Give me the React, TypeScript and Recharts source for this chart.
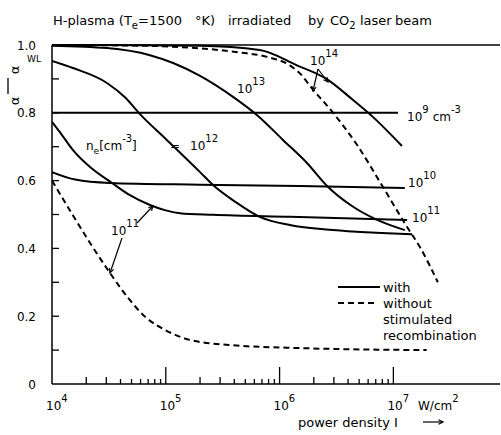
import React from 'react';
import { LineChart, Line, XAxis, YAxis, ReferenceLine } from 'recharts';

const FONT = "'DejaVu Sans', 'Liberation Sans', sans-serif";

// ---- axis setup ----
const X_MIN = 1e4;
const X_MAX = 8.65e7;
const decades = [1e4, 1e5, 1e6, 1e7];
const mantissas = [1, 2, 3, 4, 5, 6, 7, 8, 9];
const xTicks = decades.flatMap((d, i) => (i === decades.length - 1 ? [d] : mantissas.map((m) => m * d)));
const yTicks = [0, 0.1, 0.2, 0.3, 0.4, 0.5, 0.6, 0.7, 0.8, 0.9, 1.0];
const yLabels = ['0', '0.2', '0.4', '0.6', '0.8', '1.0'];

// ---- data: power density I (W/cm^2) and alpha/alpha^WL ----
// with stimulated recombination
const I_n9 = [1e4, 1.1e7];
const A_n9 = [0.8, 0.8];

const I_n10 = [1e4, 1.6e4, 3.2e4, 2e5, 1.5e6, 1.26e7];
const A_n10 = [0.625, 0.603, 0.593, 0.588, 0.584, 0.578];

const I_n11 = [1e4, 1.22e4, 1.53e4, 2.16e4, 3.37e4, 4.84e4, 7.26e4, 9.8e4, 1.33e5, 2.6e5, 1.23e6, 1.32e7];
const A_n11 = [0.773, 0.735, 0.69, 0.64, 0.593, 0.557, 0.528, 0.513, 0.504, 0.499, 0.493, 0.484];

const I_n12 = [1e4, 1.53e4, 3.04e4, 4.4e4, 5.93e4, 1.02e5, 2.0e5, 2.6e5, 4.1e5, 6.7e5, 1.23e6, 2.95e6, 1.46e7];
const A_n12 = [0.953, 0.932, 0.888, 0.845, 0.796, 0.72, 0.625, 0.587, 0.537, 0.493, 0.469, 0.454, 0.442];

const I_n13 = [1e4, 3.04e4, 7.26e4, 1.16e5, 2e5, 3.9e5, 6.5e5, 1.07e6, 1.74e6, 2.6e6, 4.2e6, 7.2e6, 1.26e7];
const A_n13 = [0.998, 0.991, 0.97, 0.947, 0.909, 0.847, 0.79, 0.72, 0.652, 0.585, 0.528, 0.484, 0.454];

const I_n14 = [1e4, 2e5, 6.7e5, 1.42e6, 2.66e6, 4.2e6, 6.6e6, 1.19e7];
const A_n14 = [1.0, 0.998, 0.985, 0.94, 0.897, 0.844, 0.788, 0.702];

// without stimulated recombination
const I_n11wo = [1e4, 1.53e4, 2.16e4, 3.24e4, 4.66e4, 6.6e4, 9.8e4, 1.63e5, 3.6e5, 1.5e6, 1.96e7];
const A_n11wo = [0.6, 0.497, 0.416, 0.327, 0.254, 0.198, 0.16, 0.13, 0.115, 0.106, 0.1];

const I_n14wo = [1e4, 5.9e4, 2e5, 4.5e5, 7.8e5, 1.23e6, 1.5e6, 1.95e6, 2.95e6, 4.8e6, 8.1e6, 1.32e7, 1.71e7, 2.46e7];
const A_n14wo = [1.0, 0.998, 0.99, 0.978, 0.965, 0.94, 0.917, 0.87, 0.8, 0.705, 0.581, 0.463, 0.404, 0.3];

const zip = (xs: number[], ys: number[]) => xs.map((x, i) => ({ x, y: ys[i] }));

const solidSeries = [
  zip(I_n9, A_n9),
  zip(I_n10, A_n10),
  zip(I_n11, A_n11),
  zip(I_n12, A_n12),
  zip(I_n13, A_n13),
  zip(I_n14, A_n14),
];
const dashedSeries = [zip(I_n11wo, A_n11wo), zip(I_n14wo, A_n14wo)];

const XTick = (props: any) => {
  const { x, y, payload } = props;
  const v = payload.value as number;
  const e = Math.floor(Math.log10(v) + 1e-9);
  const m = Math.round(v / Math.pow(10, e));
  const len = m === 1 ? 17 : m <= 3 ? 7 : 5;
  return (
    <g>
      {v > X_MIN && <line x1={x} y1={y} x2={x} y2={y - len} stroke="#000" strokeWidth={1.3} />}
      {m === 1 && (
        <text x={x - 6} y={y + 26} fontFamily={FONT} fontSize={12} fill="#000">
          10
          <tspan dy={-8} fontSize={10}>
            {e}
          </tspan>
        </text>
      )}
    </g>
  );
};

const YTick = (props: any) => {
  const { x, y, payload } = props;
  const k = Math.round((payload.value as number) * 10);
  return (
    <g>
      {k > 0 && k < 10 && <line x1={x} y1={y} x2={x + 7} y2={y} stroke="#000" strokeWidth={1.3} />}
      {k % 2 === 0 && (
        <text x={x - 16} y={y + 4.5} textAnchor="end" fontFamily={FONT} fontSize={12} fill="#000">
          {yLabels[k / 2]}
        </text>
      )}
    </g>
  );
};

const Arrow = ({ x1, y1, x2, y2 }: { x1: number; y1: number; x2: number; y2: number }) => {
  const a = Math.atan2(y2 - y1, x2 - x1);
  const L = 5;
  const s = 0.45;
  const p1 = [x2 - L * Math.cos(a - s), y2 - L * Math.sin(a - s)];
  const p2 = [x2 - L * Math.cos(a + s), y2 - L * Math.sin(a + s)];
  return (
    <g stroke="#000" strokeWidth={1.2} fill="none">
      <line x1={x1} y1={y1} x2={x2} y2={y2} />
      <polyline points={`${p1[0]},${p1[1]} ${x2},${y2} ${p2[0]},${p2[1]}`} />
    </g>
  );
};

const Sup = ({ x, y, base, sup, size = 12 }: any) => (
  <text x={x} y={y} fontFamily={FONT} fontSize={size} fill="#000">
    {base}
    <tspan dy={-8} fontSize={size - 2}>
      {sup}
    </tspan>
  </text>
);

export default function App() {
  return (
    <div style={{ position: 'absolute', left: 0, top: 0, width: 501, height: 435, background: '#fff' }}>
      <LineChart width={501} height={435} margin={{ top: 45, right: 1, bottom: 0, left: 0 }}>
        <XAxis
          type="number"
          dataKey="x"
          scale="log"
          domain={[X_MIN, X_MAX]}
          allowDataOverflow
          ticks={xTicks}
          interval={0}
          height={51}
          tickSize={0}
          tickMargin={0}
          tickLine={false}
          tick={<XTick />}
          axisLine={{ stroke: '#000', strokeWidth: 1.5 }}
        />
        <YAxis
          type="number"
          domain={[0, 1]}
          ticks={yTicks}
          interval={0}
          width={52}
          tickSize={0}
          tickMargin={0}
          tickLine={false}
          tick={<YTick />}
          axisLine={{ stroke: '#000', strokeWidth: 1.5 }}
        />
        <ReferenceLine y={1} stroke="#000" strokeWidth={1.5} />
        {solidSeries.map((d, i) => (
          <Line
            key={'s' + i}
            data={d}
            dataKey="y"
            type="monotone"
            stroke="#000"
            strokeWidth={2}
            dot={false}
            isAnimationActive={false}
          />
        ))}
        {dashedSeries.map((d, i) => (
          <Line
            key={'d' + i}
            data={d}
            dataKey="y"
            type="monotone"
            stroke="#000"
            strokeWidth={2}
            strokeDasharray="6 4"
            dot={false}
            isAnimationActive={false}
          />
        ))}
      </LineChart>
      <svg
        width={501}
        height={435}
        style={{ position: 'absolute', left: 0, top: 0, pointerEvents: 'none' }}
      >
        {/* title */}
        <text y={25} fontFamily={FONT} fontSize={13} fill="#000">
          <tspan x={53}>H-plasma (T</tspan>
          <tspan dy={4} fontSize={10}>e</tspan>
          <tspan dy={-4}>=1500</tspan>
          <tspan x={195}>°K)</tspan>
          <tspan x={228}>irradiated</tspan>
          <tspan x={308}>by</tspan>
          <tspan x={330}>CO</tspan>
          <tspan dy={4} fontSize={10}>2</tspan>
          <tspan x={360} dy={-4}>laser</tspan>
          <tspan x={395}>beam</tspan>
        </text>
        {/* y label */}
        <text x={0} y={0} fontFamily={FONT} fontSize={13} fill="#000" transform="translate(19,101) rotate(-90)" textAnchor="middle">α</text>
        <line x1={8} y1={78} x2={8} y2={94} stroke="#000" strokeWidth={1.3} />
        <text x={0} y={0} fontFamily={FONT} fontSize={13} fill="#000" transform="translate(19,70) rotate(-90)" textAnchor="middle">α</text>
        <text x={27} y={62} fontFamily={FONT} fontSize={9} fill="#000">WL</text>
        {/* x label */}
        <Sup x={418} y={410} base="W/cm" sup="2" />
        <text x={298} y={427} fontFamily={FONT} fontSize={13} fill="#000">power density I</text>
        <Arrow x1={423} y1={422} x2={443} y2={422} />
        {/* curve labels */}
        <Sup x={310} y={65} base="10" sup="14" />
        <Arrow x1={318} y1={69} x2={328} y2={82} />
        <Arrow x1={318} y1={69} x2={313} y2={91} />
        <Sup x={237} y={93} base="10" sup="13" />
        <text x={86} y={150} fontFamily={FONT} fontSize={12} fill="#000">
          n
          <tspan dy={4} fontSize={9}>e</tspan>
          <tspan dy={-4}>[cm</tspan>
          <tspan dy={-8} fontSize={10}>-3</tspan>
          <tspan dy={8}>]</tspan>
          <tspan x={170}>=</tspan>
        </text>
        <Sup x={190} y={150} base="10" sup="12" />
        <text x={407} y={121} fontFamily={FONT} fontSize={12} fill="#000">
          10
          <tspan dy={-8} fontSize={10}>9</tspan>
          <tspan dy={8} dx={4}>cm</tspan>
          <tspan dy={-8} fontSize={10}>-3</tspan>
        </text>
        <Sup x={408} y={187} base="10" sup="10" />
        <Sup x={412} y={222} base="10" sup="11" />
        <Sup x={111} y={235} base="10" sup="11" />
        <Arrow x1={137} y1={223} x2={153} y2={206} />
        <Arrow x1={122} y1={238} x2={110} y2={273} />
        {/* legend */}
        <line x1={338} y1={287} x2={380} y2={287} stroke="#000" strokeWidth={2} />
        <line x1={338} y1={303} x2={377} y2={303} stroke="#000" strokeWidth={2} strokeDasharray="6 4" />
        <text fontFamily={FONT} fontSize={13} fill="#000">
          <tspan x={383} y={292}>with</tspan>
          <tspan x={383} y={308}>without</tspan>
          <tspan x={383} y={324}>stimulated</tspan>
          <tspan x={383} y={340}>recombination</tspan>
        </text>
      </svg>
    </div>
  );
}
